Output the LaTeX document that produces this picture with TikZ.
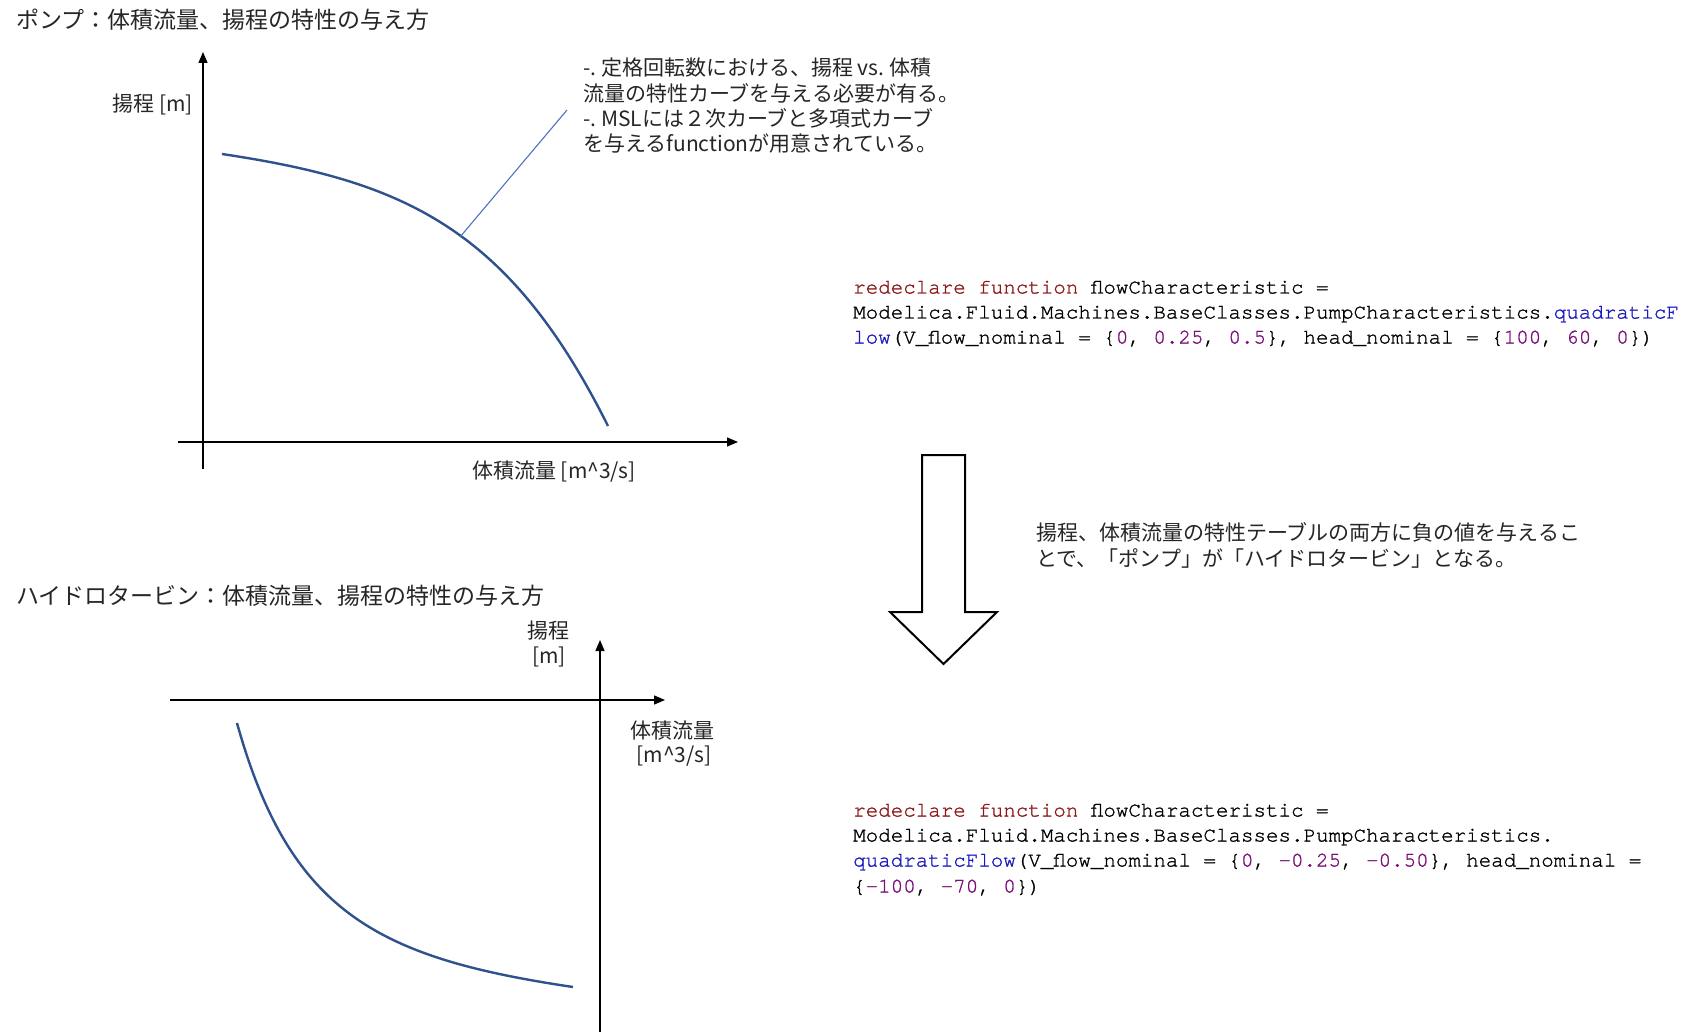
\documentclass[tikz,border=0pt]{standalone}
\usepackage{fontspec}
\setmainfont{Noto Sans CJK JP}
\newfontfamily\codefont[FakeBold=1.2]{texgyrecursor-regular.otf}
\usetikzlibrary{arrows.meta}
\definecolor{curveblue}{RGB}{47,82,143}
\definecolor{leadblue}{RGB}{80,115,190}
\definecolor{kwred}{RGB}{140,25,25}
\definecolor{fnblue}{RGB}{25,25,190}
\definecolor{numpurple}{RGB}{120,15,120}
\newcommand{\kwc}[1]{\textcolor{kwred}{#1}}
\newcommand{\fnc}[1]{\textcolor{fnblue}{#1}}
\newcommand{\numc}[1]{\textcolor{numpurple}{#1}}
\begin{document}
\frenchspacing
\begin{tikzpicture}[x=1pt,y=-1pt,
  jptext/.style={inner sep=0pt, font=\fontsize{21}{25}\selectfont, text=black!85},
  titletext/.style={inner sep=0pt, font=\fontsize{23}{27}\selectfont, text=black!85, anchor=base west},
  codeline/.style={inner sep=0pt, font=\codefont\fontsize{20.85}{25}\selectfont, anchor=base west},
  axisline/.style={line width=1.4pt, -{Triangle[length=11pt,width=9pt]}},
  curveline/.style={curveblue, line width=2.4pt},
  leader/.style={leadblue, line width=1.1pt},
  blockarrow/.style={draw=black, line width=2pt, fill=white, line join=miter}]
\useasboundingbox[fill=white] (0,0) rectangle (1692,1032);

% ---- titles
\node[titletext] (t1) at (16,28.2) {ポンプ：体積流量、揚程の特性の与え方};
\node[titletext] (t2) at (16,604.2) {ハイドロタービン：体積流量、揚程の特性の与え方};

% ---- top graph
\draw[axisline] (203,469) -- (203,52);
\draw[axisline] (178,442) -- (738,442);
\draw[curveline] (222,154) .. controls (402,181) and (508,226) .. (608,426);
\node[jptext, anchor=base east] (yl1) at (193,112) {揚程 [m]};
\node[jptext, anchor=base west] (xl1) at (472,478) {体積流量 [m\textasciicircum 3/s]};

\coordinate (leadA) at (460,237);
\coordinate (leadB) at (567,110);
\draw[leader] (leadA) -- (leadB);

\node[jptext, anchor=base west] (a1) at (583,75.8) {-. 定格回転数における、揚程 vs. 体積};
\node[jptext, anchor=base west] (a2) at (583,101.2) {流量の特性カーブを与える必要が有る。};
\node[jptext, anchor=base west] (a3) at (583,126.6) {-. MSLには２次カーブと多項式カーブ};
\node[jptext, anchor=base west] (a4) at (583,152) {を与えるfunctionが用意されている。};

% ---- code 1
\node[codeline] (c11) at (853,293.5) {\kwc{redeclare function} flowCharacteristic =};
\node[codeline] (c12) at (853,318.5) {Modelica.Fluid.Machines.BaseClasses.PumpCharacteristics.\fnc{quadraticF}};
\node[codeline] (c13) at (853,343.5) {\fnc{low}(V\_flow\_nominal = \{\numc{0}, \numc{0.25}, \numc{0.5}\}, head\_nominal = \{\numc{100}, \numc{60}, \numc{0}\})};

% ---- big arrow
\draw[blockarrow] (922,455) -- (965,455) -- (965,612) -- (997,612) -- (943.5,664) -- (890,612) -- (922,612) -- cycle;

\node[jptext, anchor=base west] (m1) at (1036,540.4) {揚程、体積流量の特性テーブルの両方に負の値を与えるこ};
\node[jptext, anchor=base west] (m2) at (1036,566.5) {とで、「ポンプ」が「ハイドロタービン」となる。};

% ---- bottom graph
\draw[axisline] (170,700) -- (665,700);
\draw[axisline] (600,1040) -- (600,640);
\draw[curveline] (237,723) .. controls (290,913) and (378,958) .. (573,987);
\node[jptext, anchor=base] (yl2a) at (548,638) {揚程};
\node[jptext, anchor=base] (yl2b) at (549,663) {[m]};
\node[jptext, anchor=base] (xl2a) at (672,738) {体積流量};
\node[jptext, anchor=base] (xl2b) at (674,762) {[m\textasciicircum 3/s]};

% ---- code 2
\node[codeline] (c21) at (853,816.5) {\kwc{redeclare function} flowCharacteristic =};
\node[codeline] (c22) at (853,841.5) {Modelica.Fluid.Machines.BaseClasses.PumpCharacteristics.};
\node[codeline] (c23) at (853,866.5) {\fnc{quadraticFlow}(V\_flow\_nominal = \{\numc{0}, \numc{-0.25}, \numc{-0.50}\}, head\_nominal =};
\node[codeline] (c24) at (853,892.5) {\{\numc{-100}, \numc{-70}, \numc{0}\})};
\end{tikzpicture}
\end{document}
